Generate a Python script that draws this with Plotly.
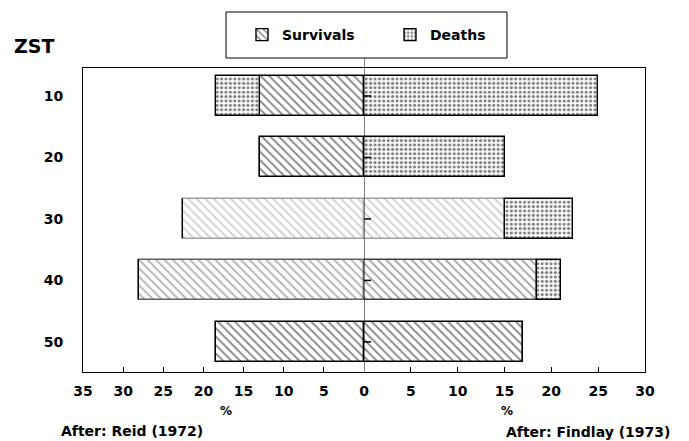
import plotly.graph_objects as go

# ---- data ----
zst = [10, 20, 30, 40, 50]
reid_survivals = [13, 13, 22.5, 28, 18.4]
reid_deaths = [5.4, 0, 0, 0, 0]
findlay_survivals = [0, 0, 15, 18.5, 17]
findlay_deaths = [25, 15, 7.3, 2.5, 0]
left_ticks = [35, 30, 25, 20, 15, 10, 5, 0]
right_ticks = [5, 10, 15, 20, 25, 30]

# ---- styles (scan-faded bars) ----
reid_surv_ink = ["black", "black", "#a0a0a0", "#606060", "black"]
findlay_surv_ink = ["black", "black", "#a0a0a0", "#404040", "black"]

FONT = "DejaVu Sans, Liberation Sans, sans-serif"

fig = go.Figure()

def surv_marker(ink):
    return dict(color="white",
                pattern=dict(shape="\\", fgcolor=ink, bgcolor="white", size=6, solidity=0.3),
                line=dict(color=ink, width=1.4))

death_marker = dict(color="white",
                    pattern=dict(shape=".", fgcolor="black", bgcolor="white", size=4.4, solidity=0.4),
                    line=dict(color="black", width=1.4))

# Left (Reid)
fig.add_trace(go.Bar(y=zst, x=reid_survivals, orientation="h", name="Survivals",
                     marker=surv_marker(reid_surv_ink), width=6.5,
                     xaxis="x", yaxis="y", legendrank=1))
fig.add_trace(go.Bar(y=zst, x=reid_deaths, base=reid_survivals, orientation="h", name="Deaths",
                     marker=death_marker, width=6.5, xaxis="x", yaxis="y", legendrank=2))
# Right (Findlay)
fig.add_trace(go.Bar(y=zst, x=findlay_survivals, orientation="h", name="Survivals",
                     marker=surv_marker(findlay_surv_ink), width=6.5, showlegend=False,
                     xaxis="x2", yaxis="y2"))
fig.add_trace(go.Bar(y=zst, x=findlay_deaths, base=findlay_survivals, orientation="h", name="Deaths",
                     marker=death_marker, width=6.5, showlegend=False,
                     xaxis="x2", yaxis="y2"))
# small cross ticks on the centre line
fig.add_trace(go.Scatter(y=zst, x=[0] * len(zst), mode="markers", xaxis="x2", yaxis="y2",
                         marker=dict(symbol="line-ew", size=10, line=dict(color="black", width=1.5)),
                         showlegend=False, hoverinfo="skip"))

axis_font = dict(family=FONT, size=14, color="black", weight="bold")

# page body has an 8px margin, so the figure is drawn 8px smaller
fig.update_layout(
    width=681, height=433,
    margin=dict(l=75, r=44, t=60, b=69, autoexpand=False),
    paper_bgcolor="white", plot_bgcolor="white",
    barmode="overlay", bargap=0,
    font=dict(family=FONT, color="black", weight="bold"),
    showlegend=True,
    legend=dict(orientation="h", x=(390 - 83) / 562, xanchor="center", y=(372 - 35) / 304,
                yanchor="middle",
                font=dict(family=FONT, size=14, color="black", weight="bold"),
                bgcolor="rgba(0,0,0,0)", borderwidth=0, entrywidth=103, traceorder="normal"),
    xaxis=dict(domain=[0, 0.5], range=[35, 0], anchor="y", tickvals=left_ticks,
               ticktext=[str(v) for v in left_ticks],
               showgrid=False, zeroline=False, showline=True, linecolor="black", linewidth=1,
               mirror=True, ticks="inside", ticklen=5, tickcolor="black",
               ticklabelstandoff=6, tickfont=axis_font),
    xaxis2=dict(domain=[0.5, 1], range=[0, 30], anchor="y2", tickvals=right_ticks,
                ticktext=[str(v) for v in right_ticks],
                showgrid=False, zeroline=False, showline=True, linecolor="black", linewidth=1,
                mirror=True, ticks="inside", ticklen=5, tickcolor="black",
                ticklabelstandoff=6, tickfont=axis_font),
    yaxis=dict(domain=[0, 1], range=[54.9, 5.45], anchor="x", tickvals=zst,
               ticktext=[str(v) for v in zst], showgrid=False, zeroline=False,
               showline=True, linecolor="black", linewidth=1, ticks="",
               ticklabelstandoff=16, tickfont=axis_font),
    yaxis2=dict(domain=[0, 1], range=[54.9, 5.45], anchor="x2", matches="y", side="right",
                showticklabels=False, showgrid=False, zeroline=False,
                showline=True, linecolor="black", linewidth=1, ticks=""),
    shapes=[
        # centre line running up to the legend box
        dict(type="line", xref="x2", x0=0, x1=0, yref="paper", y0=0, y1=(372 - 58) / 304,
             line=dict(color="black", width=1)),
        # legend box
        dict(type="rect", xref="paper", yref="paper",
             x0=(226 - 83) / 562, x1=(507 - 83) / 562,
             y0=(372 - 58) / 304, y1=(372 - 12) / 304,
             line=dict(color="black", width=1), fillcolor="white", layer="below"),
    ],
    annotations=[
        dict(text="ZST", xref="paper", yref="paper", x=(12 - 83) / 562, y=(372 - 46) / 304,
             xanchor="left", yanchor="middle", showarrow=False,
             font=dict(family=FONT, size=19, color="black", weight="bold")),
        dict(text="%", xref="x", yref="paper", x=17.2, y=(372 - 411) / 304,
             xanchor="center", yanchor="middle", showarrow=False,
             font=dict(family=FONT, size=12, color="black", weight="bold")),
        dict(text="%", xref="x2", yref="paper", x=15.3, y=(372 - 411) / 304,
             xanchor="center", yanchor="middle", showarrow=False,
             font=dict(family=FONT, size=12, color="black", weight="bold")),
        dict(text="After: Reid (1972)", xref="paper", yref="paper", x=(132 - 83) / 562,
             y=(372 - 431) / 304, xanchor="center", yanchor="middle", showarrow=False,
             font=dict(family=FONT, size=14, color="black", weight="bold")),
        dict(text="After: Findlay (1973)", xref="paper", yref="paper", x=(588 - 83) / 562,
             y=(372 - 432) / 304, xanchor="center", yanchor="middle", showarrow=False,
             font=dict(family=FONT, size=14, color="black", weight="bold")),
    ],
)

fig.write_html("out.html")
